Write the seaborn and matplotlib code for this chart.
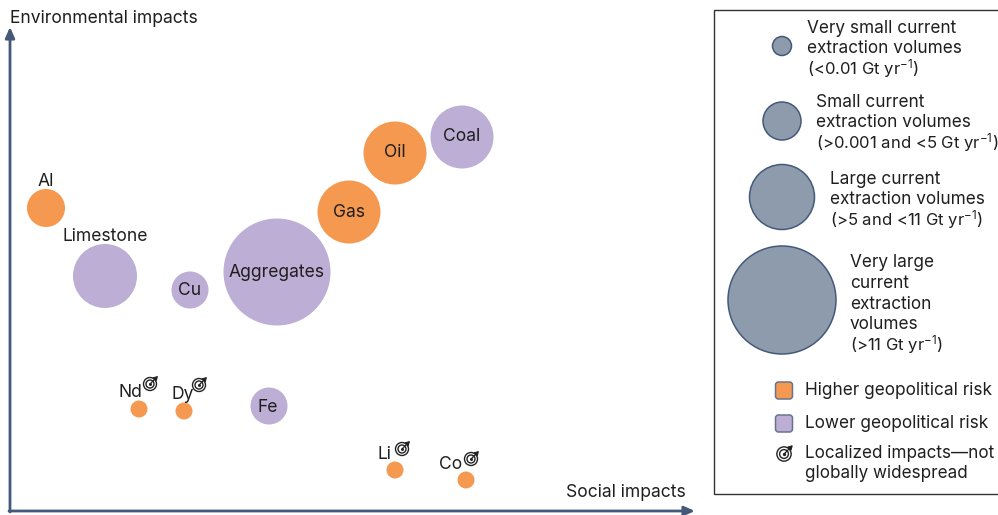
import matplotlib
matplotlib.use("Agg")
import matplotlib.pyplot as plt
from matplotlib.patches import FancyBboxPatch, Rectangle
import pandas as pd
import seaborn as sns

# values (the chart has no numeric scale, so pixel-like units)
names = ["Al", "Limestone", "Cu", "Aggregates", "Gas", "Oil", "Coal", "Nd", "Dy", "Fe", "Li", "Co"]
social = [46, 105, 190, 277, 349, 395, 462, 139, 184, 269, 395, 466]
environ = [208, 276, 290, 272, 212, 153, 137, 409, 411, 406, 470, 480]
volume = [38, 64, 37, 107, 63, 63, 63, 17, 17, 37, 17, 17]
risk = ["Higher", "Lower", "Lower", "Lower", "Higher", "Higher", "Lower",
        "Higher", "Higher", "Lower", "Higher", "Higher"]

label_x = [46, 105, 190, 277, 349, 395, 462, 130, 183, 268, 384, 451]
label_y = [186, 241, 295, 277, 217, 157, 141, 397, 399, 412, 459, 469]

target_x = [150, 199, 402, 471]
target_y = [384, 385, 449, 459]

legend_sizes = [19, 38, 65, 108]
legend_y = [46, 121, 197, 300]
legend_lines = [
    ["Very small current", "extraction volumes", "(<0.01 Gt yr$^{-1}$)"],
    ["Small current", "extraction volumes", "(>0.001 and <5 Gt yr$^{-1}$)"],
    ["Large current", "extraction volumes", "(>5 and <11 Gt yr$^{-1}$)"],
    ["Very large", "current", "extraction", "volumes", "(>11 Gt yr$^{-1}$)"],
]
legend_line_x = [807, 816, 830, 850]
legend_line_y = [[33, 53, 74], [107, 127, 148], [184, 204, 225], [267, 288, 309, 329, 350]]

ORANGE = "#f4994f"
PURPLE = "#bcaed4"
SLATE = "#8d9bad"
NAVY = "#44597a"
INK = "#1f1f1f"

sns.set_theme(style="white")
plt.rcParams["font.family"] = ["Inter", "DejaVu Sans"]
plt.rcParams["mathtext.fontset"] = "custom"
plt.rcParams["mathtext.rm"] = "Inter"
plt.rcParams["mathtext.default"] = "regular"
plt.rcParams["font.size"] = 12.6
plt.rcParams["text.color"] = INK


def area(d):
    # marker area in pt^2 from a diameter in pixels at dpi 100
    return (d * 0.72) ** 2


def target(ax, x, y, scale=1.0):
    for d, lw in [(13, 1.0), (8, 1.0)]:
        ax.scatter(x, y, s=area(d * scale), facecolor="none", edgecolor="#222222", linewidth=lw, zorder=5)
    ax.scatter(x, y, s=area(3 * scale), color="#222222", linewidth=0, zorder=5)
    ax.annotate("", xy=(x + 8 * scale, y - 8 * scale), xytext=(x, y),
                arrowprops=dict(arrowstyle="-|>,head_width=0.12,head_length=0.2", color="#222222", lw=0.9,
                                shrinkA=0, shrinkB=0), zorder=6)


df = pd.DataFrame({"social": social, "environ": environ, "volume": volume, "risk": risk})

fig = plt.figure(figsize=(9.98, 5.15), dpi=100)
ax = fig.add_axes([0, 0, 1, 1])

sns.scatterplot(data=df, x="social", y="environ", hue="risk", size="volume",
                hue_order=["Higher", "Lower"], palette=[ORANGE, PURPLE],
                sizes={v: area(v) for v in set(volume)}, linewidth=0, alpha=1,
                legend=False, ax=ax, zorder=2)

for n, x, y in zip(names, label_x, label_y):
    ax.text(x, y, n, ha="center", va="baseline", zorder=4)

for x, y in zip(target_x, target_y):
    target(ax, x, y)

# axes arrows
arrow = dict(arrowstyle="-|>,head_width=0.22,head_length=0.5", color=NAVY, lw=2.0, shrinkA=0, shrinkB=0)
ax.annotate("", xy=(10, 27), xytext=(10, 512), arrowprops=arrow)
ax.annotate("", xy=(695, 511), xytext=(9, 511), arrowprops=arrow)
ax.text(10, 23, "Environmental impacts", ha="left", va="baseline")
ax.text(686, 497, "Social impacts", ha="right", va="baseline")

# legend box, drawn by hand like the original
ax.add_patch(Rectangle((714.5, 9.5), 290, 484.5, facecolor="white", edgecolor="#333333", lw=1.0, zorder=1))

sns.scatterplot(x=[782] * 4, y=legend_y, size=legend_sizes,
                sizes={v: area(v) for v in legend_sizes}, color=SLATE,
                edgecolor=NAVY, linewidth=1.1, legend=False, ax=ax, zorder=2)
ax.set_xlim(0, 998)
ax.set_ylim(515, 0)
ax.axis("off")

for lines, x, ys in zip(legend_lines, legend_line_x, legend_line_y):
    for t, y in zip(lines, ys):
        # the mathtext lines come out wider, so they get a smaller size
        ax.text(x, y, t, ha="left", va="baseline", zorder=4, fontsize=12.0 if "$" in t else 12.4)

for y, base, c, t in [(390.5, 395, ORANGE, "Higher geopolitical risk"), (423.5, 428, PURPLE, "Lower geopolitical risk")]:
    ax.add_patch(FancyBboxPatch((777, y - 7), 14, 14, boxstyle="round,pad=1.5,rounding_size=3",
                                facecolor=c, edgecolor="#66758c", lw=1.1, zorder=3))
    ax.text(805, base, t, ha="left", va="baseline", zorder=4, fontsize=12.4)

target(ax, 784, 454, scale=1.1)
ax.text(805, 458, "Localized impacts\u2014not", ha="left", va="baseline", fontsize=12.3)
ax.text(805, 478, "globally widespread", ha="left", va="baseline", fontsize=12.3)

fig.savefig("out.png", dpi=100, facecolor="white")
